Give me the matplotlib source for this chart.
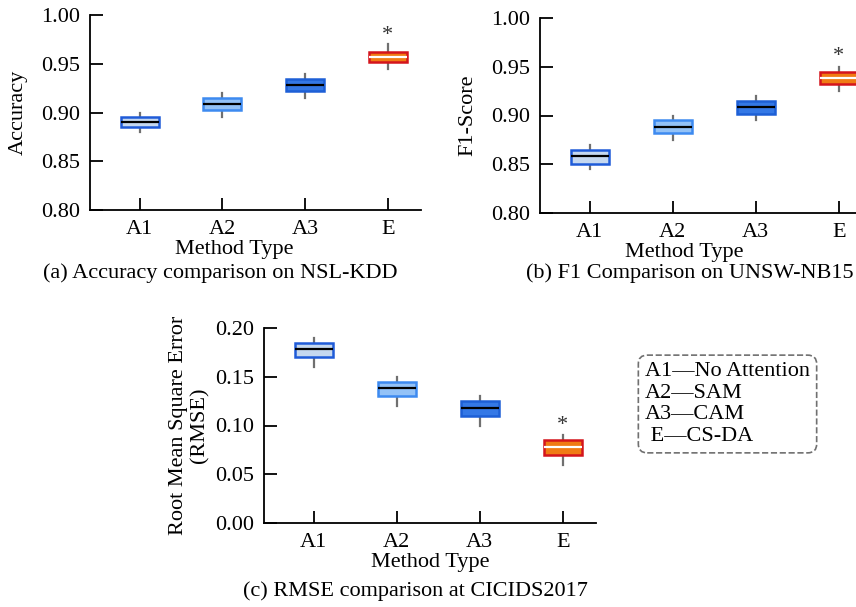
import matplotlib
matplotlib.use("Agg")
import matplotlib.pyplot as plt

plt.rcParams['font.family'] = ['Liberation Serif', 'DejaVu Serif']
plt.rcParams['font.size'] = 16

methods = ['A1', 'A2', 'A3', 'E']

# (whislo, q1, med, q3, whishi) per method
acc_stats = [(0.880, 0.885, 0.890, 0.895, 0.900),
             (0.895, 0.903, 0.909, 0.915, 0.920),
             (0.915, 0.922, 0.928, 0.934, 0.940),
             (0.945, 0.952, 0.957, 0.962, 0.970)]
f1_stats = [(0.845, 0.850, 0.858, 0.865, 0.870),
            (0.875, 0.882, 0.888, 0.895, 0.900),
            (0.895, 0.902, 0.909, 0.915, 0.920),
            (0.925, 0.932, 0.938, 0.945, 0.950)]
rmse_stats = [(0.160, 0.170, 0.178, 0.185, 0.190),
              (0.120, 0.130, 0.138, 0.145, 0.150),
              (0.100, 0.110, 0.118, 0.125, 0.130),
              (0.060, 0.070, 0.078, 0.085, 0.090)]
star_y = [0.979, 0.961, 0.100]

face_cols = ['#c5d8f0', '#93c2f7', '#3478e6', '#f07b14']
edge_cols = ['#1f5bd8', '#3d8af0', '#1d5fd6', '#d4141c']
med_cols = ['black', 'black', 'black', 'white']

W, H = 856, 607
fig = plt.figure(figsize=(W / 100, H / 100), dpi=100)


def make_ax(left, top, right, bottom):
    return fig.add_axes([left / W, 1 - bottom / H, (right - left) / W, (bottom - top) / H])


def draw(ax, stats, ylim, yticks, ylabel, star, xlab_x):
    bxp_stats = []
    for m, s in zip(methods, stats):
        bxp_stats.append(dict(label=m, whislo=s[0], q1=s[1], med=s[2], q3=s[3], whishi=s[4], fliers=[]))
    parts = ax.bxp(bxp_stats, positions=range(1, 5), widths=0.46, patch_artist=True,
                   showcaps=False, showfliers=False,
                   whiskerprops=dict(color='#707070', lw=1.6))
    for i, b in enumerate(parts['boxes']):
        b.set_facecolor(face_cols[i])
        b.set_edgecolor(edge_cols[i])
        b.set_linewidth(1.8)
        b.set_zorder(3)
    for i, md in enumerate(parts['medians']):
        md.set_color(med_cols[i])
        md.set_linewidth(1.6)
        md.set_zorder(4)
    ax.text(4, star, '*', ha='center', va='center', fontsize=16, color='#333333')
    ax.set_xlim(0.4, 4.4)
    ax.set_ylim(*ylim)
    ax.set_yticks(yticks)
    ax.set_yticklabels(['%.2f' % t for t in yticks])
    ax.spines['top'].set_visible(False)
    ax.spines['right'].set_visible(False)
    ax.spines['left'].set_linewidth(1.3)
    ax.spines['bottom'].set_linewidth(1.3)
    ax.tick_params(direction='in', length=9, width=1.3, pad=7)
    ax.set_xlabel('Method Type', labelpad=2)
    ax.xaxis.set_label_coords(xlab_x, -0.155)
    ax.set_ylabel(ylabel)
    ax.set_facecolor('none')


ax1 = make_ax(90, 15, 421, 210)
draw(ax1, acc_stats, (0.80, 1.00), [0.80, 0.85, 0.90, 0.95, 1.00], 'Accuracy', star_y[0], 0.437)
ax1.yaxis.set_label_coords(-0.187, 0.5)

ax2 = make_ax(540, 18, 872, 213)
draw(ax2, f1_stats, (0.80, 1.00), [0.80, 0.85, 0.90, 0.95, 1.00], 'F1-Score', star_y[1], 0.435)
ax2.yaxis.set_label_coords(-0.19, 0.5)

ax3 = make_ax(264, 328, 596, 523)
draw(ax3, rmse_stats, (0.0, 0.20), [0.00, 0.05, 0.10, 0.15, 0.20],
     'Root Mean Square Error\n(RMSE)', star_y[2], 0.5)
ax3.yaxis.set_label_coords(-0.163, 0.5)

fig.text(220 / W, 1 - 273 / H, '(a) Accuracy comparison on NSL-KDD', ha='center', va='center')
fig.text(690 / W, 1 - 273 / H, '(b) F1 Comparison on UNSW-NB15', ha='center', va='center')
fig.text(415 / W, 1 - 591 / H, '(c) RMSE comparison at CICIDS2017', ha='center', va='center')

legend_txt = 'A1\u2014No Attention\nA2\u2014SAM\nA3\u2014CAM\n E\u2014CS-DA'
fig.text(645 / W, 1 - 404 / H, legend_txt, ha='left', va='center', linespacing=1.2,
         bbox=dict(boxstyle='round,pad=0.3,rounding_size=0.4', fc='white', ec='#707070',
                   ls='--', lw=1.2))

fig.savefig('out.png', dpi=100)
